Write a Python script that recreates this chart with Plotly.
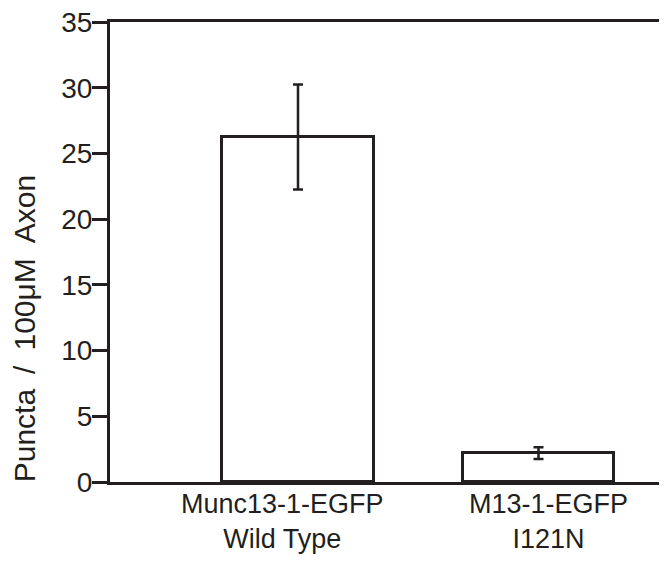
import plotly.graph_objects as go

categories = ["Munc13-1-EGFP<br>Wild Type", "M13-1-EGFP<br>I121N"]
values = [26.25, 2.2]
errors = [4.0, 0.45]
y_ticks = [0, 5, 10, 15, 20, 25, 30, 35]
y_title = "Puncta / 100\u03bcM Axon"

INK = "#231f20"
FONT = "Liberation Sans, Arial, sans-serif"

fig = go.Figure()
fig.add_trace(go.Bar(
    x=categories,
    y=values,
    width=0.63,
    marker=dict(color="white", line=dict(color=INK, width=3)),
    error_y=dict(type="data", array=errors, visible=True, color=INK,
                 thickness=2.5, width=5),
    showlegend=False,
))

label_shift = [-16, 10]
for cat, dx in zip(categories, label_shift):
    fig.add_annotation(x=cat, xref="x", y=0, yref="paper", yanchor="top",
                       yshift=-5, xshift=dx, text=cat, showarrow=False,
                       align="center", font=dict(family=FONT, size=27, color=INK))

fig.add_annotation(x=0, xref="paper", xshift=-86, y=0.332, yref="paper",
                   text=y_title.replace(" ", "\u2002"), textangle=-90, showarrow=False,
                   xanchor="center", yanchor="middle",
                   font=dict(family=FONT, size=30, color=INK))

fig.update_layout(
    width=659, height=556,
    margin=dict(l=102, r=0, t=14, b=82),
    paper_bgcolor="white", plot_bgcolor="white",
    font=dict(family=FONT, size=28, color=INK),
    bargap=0,
)
fig.update_xaxes(type="category", range=[-0.7817, 1.5343], showticklabels=False,
                 showline=True, linecolor=INK, linewidth=3, mirror=True,
                 showgrid=False, zeroline=False, ticks="")
fig.update_yaxes(range=[0, 35], tickvals=y_ticks, ticks="outside", ticklen=15,
                 tickwidth=3, tickcolor=INK, showline=True, linecolor=INK,
                 linewidth=3, showgrid=False, zeroline=False,
                 ticklabelstandoff=-6, ticklabeloverflow="allow",
                 tickfont=dict(family=FONT, size=28, color=INK))

fig.write_html("out.html")
